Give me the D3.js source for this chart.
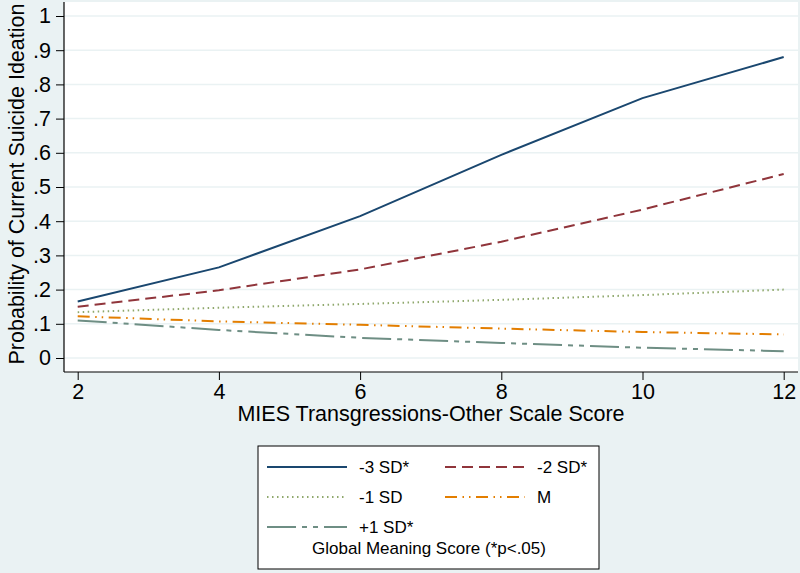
<!DOCTYPE html>
<html>
<head>
    <meta charset="utf-8">
    <title>Probability of Current Suicide Ideation</title>
    <style>
        body { margin: 0; }
        svg { display: block; font-family: "Liberation Sans", Arial, sans-serif; }
    </style>
</head>
<body>
    <svg id="chart"></svg>
    <script src="https://cdn.jsdelivr.net/npm/d3@7"></script>
    <script>
        // x values (MIES Transgressions-Other scale score)
        var xVals = [2, 4, 6, 8, 10, 12];

        // predicted probabilities for each level of global meaning
        var seriesNames = ["-3 SD*", "-2 SD*", "-1 SD", "M", "+1 SD*"];
        var minus3 = [0.165, 0.265, 0.415, 0.594, 0.760, 0.880];
        var minus2 = [0.150, 0.198, 0.259, 0.340, 0.434, 0.538];
        var minus1 = [0.134, 0.147, 0.158, 0.170, 0.184, 0.200];
        var mean   = [0.122, 0.107, 0.097, 0.086, 0.076, 0.069];
        var plus1  = [0.110, 0.082, 0.059, 0.044, 0.030, 0.020];

        var xTicks = [2, 4, 6, 8, 10, 12];
        var yTicks = [0, 0.1, 0.2, 0.3, 0.4, 0.5, 0.6, 0.7, 0.8, 0.9, 1];
        var yTickLabels = ["0", ".1", ".2", ".3", ".4", ".5", ".6", ".7", ".8", ".9", "1"];

        var width = 800, height = 573;

        // stata s2color style
        var styles = [
            { color: "#1a476f", dash: null },
            { color: "#90353b", dash: "11,6" },
            { color: "#8fa86c", dash: "1.5,3.5" },
            { color: "#e37e00", dash: "12,5.5,1.5,5,1.5,5.5" },
            { color: "#6e8e84", dash: "29,6,5,6,5,6" }
        ];

        var allSeries = [minus3, minus2, minus1, mean, plus1];

        var svg = d3.select("#chart")
            .attr("width", width)
            .attr("height", height);

        // background
        svg.append("rect")
            .attr("width", width)
            .attr("height", height)
            .attr("fill", "#eaf2f3");

        var plot = { left: 64, right: 798, top: 2, bottom: 372 };

        svg.append("rect")
            .attr("x", plot.left)
            .attr("y", plot.top)
            .attr("width", plot.right - plot.left)
            .attr("height", plot.bottom - plot.top)
            .attr("fill", "#ffffff");

        var x = d3.scaleLinear().domain([2, 12]).range([77.7, 783.7]);
        var y = d3.scaleLinear().domain([0, 1]).range([358, 16]);

        // gridlines
        svg.append("g")
            .selectAll("line")
            .data(yTicks)
            .join("line")
                .attr("x1", plot.left)
                .attr("x2", plot.right)
                .attr("y1", d => y(d))
                .attr("y2", d => y(d))
                .attr("stroke", "#eaf2f3")
                .attr("stroke-width", 1.5);

        // lines
        var line = d3.line()
            .x((d, i) => x(xVals[i]))
            .y(d => y(d));

        svg.append("g")
            .selectAll("path")
            .data(allSeries)
            .join("path")
                .attr("d", d => line(d))
                .attr("fill", "none")
                .attr("stroke", (d, i) => styles[i].color)
                .attr("stroke-width", 2)
                .attr("stroke-dasharray", (d, i) => styles[i].dash);

        // y axis
        var yAxis = svg.append("g")
            .attr("transform", `translate(${plot.left},0)`)
            .call(d3.axisLeft(y)
                .tickValues(yTicks)
                .tickFormat((d, i) => yTickLabels[i])
                .tickSize(8)
                .tickPadding(5));
        yAxis.select(".domain").remove();
        yAxis.selectAll("text").attr("font-size", 21.5).attr("fill", "#000");
        yAxis.selectAll("line").attr("stroke", "#000");

        // x axis
        var xAxis = svg.append("g")
            .attr("transform", `translate(0,${plot.bottom})`)
            .call(d3.axisBottom(x)
                .tickValues(xTicks)
                .tickSize(8)
                .tickPadding(4));
        xAxis.select(".domain").remove();
        xAxis.selectAll("text").attr("font-size", 21.5).attr("fill", "#000");
        xAxis.selectAll("line").attr("stroke", "#000");

        // axis lines
        svg.append("line")
            .attr("x1", plot.left).attr("x2", plot.left)
            .attr("y1", plot.top).attr("y2", plot.bottom)
            .attr("stroke", "#000").attr("stroke-width", 1.2);
        svg.append("line")
            .attr("x1", plot.left).attr("x2", plot.right)
            .attr("y1", plot.bottom).attr("y2", plot.bottom)
            .attr("stroke", "#000").attr("stroke-width", 1.2);

        // axis titles
        svg.append("text")
            .attr("x", (plot.left + plot.right) / 2)
            .attr("y", 421)
            .attr("text-anchor", "middle")
            .attr("font-size", 21.5)
            .text("MIES Transgressions-Other Scale Score");

        svg.append("text")
            .attr("transform", `translate(24,184) rotate(-90)`)
            .attr("text-anchor", "middle")
            .attr("font-size", 21.5)
            .text("Probability of Current Suicide Ideation");

        // legend
        var legend = svg.append("g");
        legend.append("rect")
            .attr("x", 258)
            .attr("y", 446)
            .attr("width", 341)
            .attr("height", 123)
            .attr("fill", "#ffffff")
            .attr("stroke", "#000")
            .attr("stroke-width", 1);

        var item = legend.selectAll("g.item")
            .data(seriesNames)
            .join("g")
                .attr("class", "item")
                .attr("transform", (d, i) => `translate(${i % 2 === 0 ? 267 : 445},${467 + Math.floor(i / 2) * 30})`);

        item.append("line")
            .attr("x1", 0).attr("x2", 80)
            .attr("stroke", (d, i) => styles[i].color)
            .attr("stroke-width", 2)
            .attr("stroke-dasharray", (d, i) => styles[i].dash);

        item.append("text")
            .attr("x", 92)
            .attr("dy", "0.35em")
            .attr("font-size", 17)
            .text(d => d);

        legend.append("text")
            .attr("x", 429)
            .attr("y", 554)
            .attr("text-anchor", "middle")
            .attr("font-size", 17)
            .text("Global Meaning Score (*p<.05)");
    </script>
</body>
</html>
